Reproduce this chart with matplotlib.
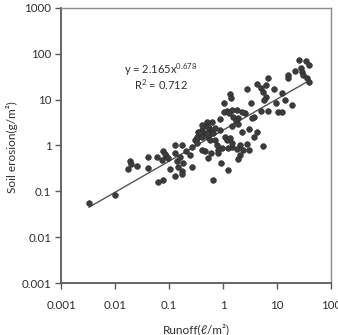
import numpy as np
import matplotlib
matplotlib.use("Agg")
import matplotlib.pyplot as plt
from matplotlib.ticker import FixedLocator, NullLocator

plt.rcParams['font.family'] = ['Lato', 'DejaVu Sans']
plt.rcParams['mathtext.default'] = 'regular'

# runoff (l/m2) vs soil erosion (g/m2)
runoff = [25.5, 34.4, 39.6, 27.8, 21.5, 29.0, 30.7, 35.5, 39.6, 16.2,
          15.8, 6.73, 4.21, 6.25, 5.06, 8.69, 5.57, 6.25, 12.5, 2.75,
          1.35, 1.41, 1.06, 3.30, 5.82, 9.46, 14.1, 18.7, 10.3, 12.5,
          6.90, 5.06, 3.80, 3.49, 2.55, 2.22, 1.79, 1.45, 1.17, 1.06,
          1.29, 1.55, 1.87, 1.72, 1.92, 1.45, 0.88, 0.63, 0.50, 0.46,
          0.55, 0.60, 0.40, 0.35, 0.33, 0.43, 0.53, 0.66, 0.88, 2.22,
          3.03, 4.21, 3.80, 2.75, 3.03, 2.06, 2.38, 1.79, 2.06, 1.87,
          1.49, 1.25, 1.09, 1.17, 1.35, 1.45, 0.97, 0.82, 0.76, 0.82,
          0.60, 0.52, 0.46, 0.40, 0.92, 1.22, 0.66, 5.57, 0.57, 0.71,
          0.019, 0.020, 0.0176, 0.026, 0.040, 0.040, 0.059, 0.078, 0.088, 0.097,
          0.073, 0.129, 0.129, 0.172, 0.184, 0.207, 0.263, 0.30, 0.33, 0.375,
          0.334, 0.104, 0.149, 0.172, 0.129, 0.172, 0.263, 0.078, 0.063, 0.010,
          0.0033, 0.139, 0.245, 0.40, 0.53, 0.71, 0.50, 0.40, 0.16, 0.084]
erosion = [74, 68, 55.6, 48.7, 43.2, 41.1, 34.8, 30.4, 24.1, 34.8,
           29.5, 29.5, 22.1, 21.0, 17.8, 17.2, 14.6, 11.7, 14.3, 17.2,
           13.4, 10.8, 8.65, 8.39, 9.9, 8.65, 9.9, 7.69, 5.33, 5.33,
           5.69, 5.78, 4.28, 3.94, 5.07, 5.50, 5.99, 5.99, 5.69, 5.50,
           5.07, 4.28, 3.94, 3.50, 2.96, 2.68, 3.75, 3.33, 3.33, 2.82,
           2.39, 2.01, 2.19, 2.01, 1.44, 1.86, 1.56, 1.86, 2.19, 1.95,
           2.27, 2.01, 1.52, 1.08, 0.80, 1.03, 0.80, 0.83, 0.62, 0.50,
           0.95, 0.87, 1.56, 1.32, 1.44, 1.12, 0.87, 0.80, 1.03, 0.68,
           0.68, 0.53, 0.74, 0.80, 0.42, 0.29, 0.18, 0.98, 1.32, 1.32,
           0.47, 0.40, 0.30, 0.36, 0.57, 0.33, 0.56, 0.74, 0.59, 0.53,
           0.49, 0.68, 1.03, 1.03, 0.41, 0.74, 0.95, 1.32, 1.56, 1.86,
           1.12, 0.30, 0.34, 0.28, 0.22, 0.24, 0.34, 0.18, 0.163, 0.083,
           0.056, 0.47, 0.62, 2.82, 2.59, 2.39, 1.86, 1.56, 0.56, 0.66]

# power fit y = a * x^b
fit_a = 2.165
fit_b = 0.678
fit_r2 = 0.712

ticks = [0.001, 0.01, 0.1, 1, 10, 100, 1000]
xtick_labels = ['0.001', '0.01', '0.1', '1', '10', '100']
ytick_labels = ['0.001', '0.01', '0.1', '1', '10', '100', '1000']

fig = plt.figure(figsize=(3.38, 3.35), dpi=100)
ax = fig.add_axes([0.1805, 0.1552, 0.799, 0.821])

ax.scatter(runoff, erosion, s=17, color='#3c3c3c', edgecolor='#2a2a2a',
           linewidth=0.4, zorder=3)

xf = np.geomspace(min(runoff), max(runoff), 100)
ax.plot(xf, fit_a * xf ** fit_b, color='#555555', lw=1.0, zorder=2)

ax.set_xscale('log')
ax.set_yscale('log')
ax.set_xlim(0.001, 100)
ax.set_ylim(0.001, 1000)
ax.xaxis.set_major_locator(FixedLocator(ticks[:6]))
ax.yaxis.set_major_locator(FixedLocator(ticks))
ax.xaxis.set_minor_locator(NullLocator())
ax.yaxis.set_minor_locator(NullLocator())
ax.set_xticklabels(xtick_labels)
ax.set_yticklabels(ytick_labels)
ax.tick_params(axis='x', length=4, width=1, color='#595959', pad=8,
               labelsize=8.3, labelcolor='#2e2e2e')
ax.tick_params(axis='y', length=4, width=1, color='#595959', pad=3,
               labelsize=8.3, labelcolor='#2e2e2e')

for s in ['left', 'bottom']:
    ax.spines[s].set_color('#595959')
    ax.spines[s].set_linewidth(1.3)
for s in ['top', 'right']:
    ax.spines[s].set_color('#8c8c8c')
    ax.spines[s].set_linewidth(1.0)

ax.text(0.37, 0.775, 'y = %.3fx$^{%.3f}$' % (fit_a, fit_b),
        transform=ax.transAxes, ha='center', va='center', fontsize=8,
        color='#2e2e2e')
ax.text(0.37, 0.72, 'R$^{2}$ = %.3f' % fit_r2,
        transform=ax.transAxes, ha='center', va='center', fontsize=8,
        color='#2e2e2e')

fig.text(196 / 338, 6 / 335, 'Runoff(ℓ/m²)', ha='center', va='center',
         fontsize=8.5, color='#2e2e2e')
fig.text(12 / 338, 188 / 335, 'Soil erosion(g/m²)', ha='center', va='center',
         rotation=90, fontsize=8.5, color='#2e2e2e')

fig.savefig('out.png', dpi=100)
